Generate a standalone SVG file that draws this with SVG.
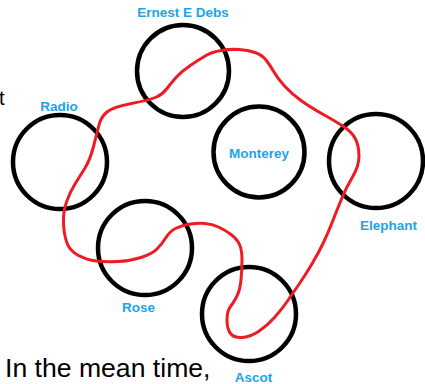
<svg xmlns="http://www.w3.org/2000/svg" width="425" height="384" viewBox="0 0 425 384">
<style>
.node circle{fill:none;stroke:#000;stroke-width:4.5}
.lbl{font-family:"Liberation Sans",Arial,sans-serif;font-weight:bold;font-size:13.5px;fill:#1ea3e6;text-anchor:middle}
.txt{font-family:"Liberation Sans",Arial,sans-serif;fill:#000}
.route{fill:none;stroke:#ed1c24;stroke-width:3;stroke-linejoin:round;stroke-linecap:round}
</style>
<rect width="425" height="384" fill="#fff"/>
<text class="txt" x="-1" y="105" font-size="20">t</text>
<text class="txt" x="5" y="377" font-size="26.6">In the mean time,</text>
<g id="node-ernest" class="node"><circle cx="183" cy="71" r="46"/><text class="lbl" x="183" y="17">Ernest E Debs</text></g>
<g id="node-radio" class="node"><circle cx="60" cy="162" r="47"/><text class="lbl" x="59" y="111">Radio</text></g>
<g id="node-monterey" class="node"><circle cx="259" cy="152" r="45.5"/><text class="lbl" x="259" y="158" font-size="14.5">Monterey</text></g>
<g id="node-elephant" class="node"><circle cx="376" cy="161" r="47"/><text class="lbl" x="388.5" y="230" font-size="14">Elephant</text></g>
<g id="node-rose" class="node"><circle cx="145" cy="248" r="47"/><text class="lbl" x="138.5" y="312">Rose</text></g>
<g id="node-ascot" class="node"><circle cx="249" cy="314" r="47"/><text class="lbl" x="253.5" y="382">Ascot</text></g>
<g id="connectors">
<path class="route" d="M221,50.5 Q230,49 239,49.5 Q248,50 255,52.5 Q262,55 266,60 Q270,65 274,72 Q278,79 285,86.5 Q292,94 301,100.5 Q310,107 322.5,114 Q335,121 343.5,126.5 Q352,132 355.5,139 Q359,146 359,156 Q359,166 352.5,177 Q346,188 341.5,199 Q337,210 332.5,221.5 Q328,233 323.5,242.5 Q319,252 312.5,263 Q306,274 299.5,283.5 Q293,293 287.5,301 Q282,309 274.5,317.5 Q267,326 258.5,331.5 Q250,337 242,337.5 Q234,338 230.5,333.5 Q227,329 227,320 Q227,311 230.5,306.5 Q234,302 237,296 Q240,290 241,280 Q242,270 242,260 Q242,250 239.5,244.5 Q237,239 231,234.5 Q225,230 218.5,227 Q212,224 205,223.5 Q198,223 190.5,224 Q183,225 176.5,228 Q170,231 166,237.5 Q162,244 157,249 Q152,254 141,257.5 Q130,261 117.5,261.5 Q105,262 96,261 Q87,260 78.5,255.5 Q70,251 67,243 Q64,235 63.5,223.5 Q63,212 66.5,202 Q70,192 75,184 Q80,176 85,168 Q90,160 93.5,146.5 Q97,133 99,125 Q101,117 107,112 Q113,107 131.5,103.5 Q150,100 156.5,97 Q163,94 167,88.5 Q171,83 176.5,77 Q182,71 191,65 Q200,59 206,55.5 Q212,52 221,50.5 Z"/>
</g>
</svg>
